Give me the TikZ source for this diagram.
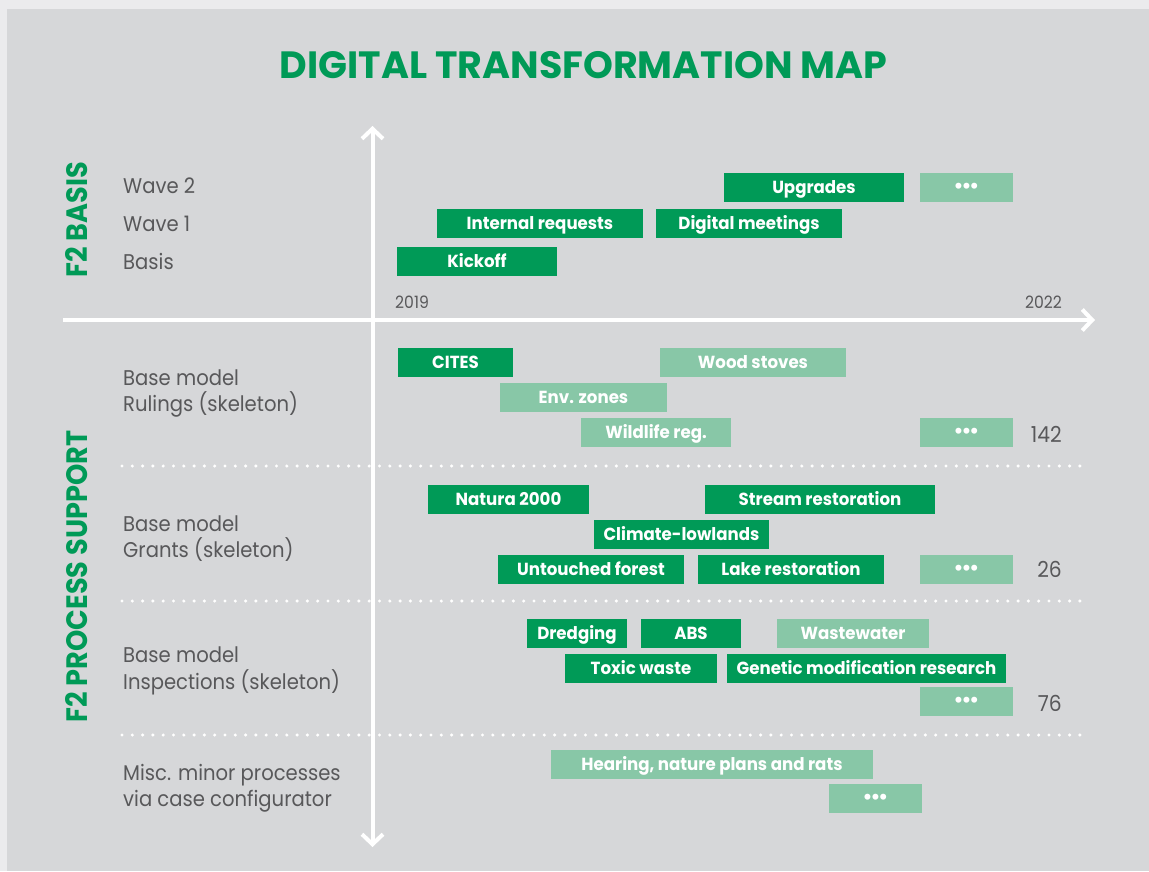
\documentclass[tikz,border=0pt]{standalone}
\usepackage{fontspec}
\usetikzlibrary{arrows.meta}
\newfontfamily\pop[FakeStretch=0.92]{Poppins}
\newfontfamily\popb[FakeStretch=0.95]{Poppins}
\newfontfamily\popt{Poppins}
\newfontfamily\dvs{DejaVu Sans}
\definecolor{outerbg}{HTML}{EBEBED}
\definecolor{panel}{HTML}{D6D7D9}
\definecolor{gdark}{HTML}{009A57}
\definecolor{glight}{HTML}{88C7A7}
\definecolor{tgray}{HTML}{58585A}
\newcommand{\tdots}{•\kern-3pt•\kern-3pt•}
\tikzset{
  box/.style={rectangle, inner sep=0pt, minimum height=29pt, text=white,
    text height=12.2pt, text depth=0pt,
    font=\popb\bfseries\fontsize{17.5}{17.5}\selectfont},
  dk/.style={box, fill=gdark},
  lt/.style={box, fill=glight},
  dotsbox/.style={lt, minimum width=93pt, text height=10.4pt,
    font=\dvs\bfseries\fontsize{17}{17}\selectfont},
  lbl/.style={anchor=base west, inner sep=0pt, text=tgray,
    font=\pop\fontsize{21.3}{21.3}\selectfont},
  num/.style={anchor=base east, inner sep=0pt, text=tgray,
    font=\pop\fontsize{22}{22}\selectfont},
  yr/.style={inner sep=0pt, text=tgray, font=\pop\fontsize{17}{17}\selectfont},
  side/.style={anchor=base, rotate=90, inner sep=0pt, text=gdark,
    font=\pop\bfseries\fontsize{29.5}{29.5}\selectfont},
  axis/.style={draw=white, line width=4pt,
    -{Straight Barb[length=10pt,width=21pt]}},
  axis2/.style={draw=white, line width=4pt,
    {Straight Barb[length=10pt,width=21pt]}-{Straight Barb[length=10pt,width=21pt]}},
  dotline/.style={draw=white, line width=3.4pt, line cap=round,
    dash pattern=on 0pt off 10.3pt}
}
\begin{document}
\begin{tikzpicture}[x=1pt,y=-1pt]
\useasboundingbox (0,0) rectangle (1149,871);
\fill[outerbg] (0,0) rectangle (1149,871);
\fill[panel] (7,9) rectangle (1149,871);

% title
\node[anchor=base, inner sep=0pt, text=gdark,
  font=\popt\bfseries\fontsize{38}{38}\selectfont] (title) at (583.5,78) {DIGITAL TRANSFORMATION MAP};

% side labels
\node[side] (f2basis) at (87,219.5) {F2 BASIS};
\node[side] (f2proc) at (87,576.5) {F2 PROCESS SUPPORT};

% dotted separators
\coordinate (d1l) at (122,466); \coordinate (d1r) at (1087,466);
\coordinate (d2l) at (122,601); \coordinate (d2r) at (1087,601);
\coordinate (d3l) at (122,735); \coordinate (d3r) at (1087,735);
\draw[dotline] (d1l) -- (d1r);
\draw[dotline] (d2l) -- (d2r);
\draw[dotline] (d3l) -- (d3r);

% axes
\coordinate (ytop) at (372.5,126);
\coordinate (ybot) at (372.5,847);
\coordinate (xl) at (63,320);
\coordinate (xr) at (1095,320);
\draw[axis] (xl) -- (xr);
\draw[axis2] (ybot) -- (ytop);

% years
\node[yr, anchor=base west] (y2019) at (395,308) {2019};
\node[yr, anchor=base east] (y2022) at (1062,308) {2022};

% row labels
\node[lbl] (wave2) at (123,193) {Wave 2};
\node[lbl] (wave1) at (123,231) {Wave 1};
\node[lbl] (basis) at (123,269) {Basis};
\node[lbl] (bm1) at (123,385) {Base model};
\node[lbl] (rul) at (123,411) {Rulings (skeleton)};
\node[lbl] (bm2) at (123,531) {Base model};
\node[lbl] (gra) at (123,557) {Grants (skeleton)};
\node[lbl] (bm3) at (123,662) {Base model};
\node[lbl] (ins) at (123,689) {Inspections (skeleton)};
\node[lbl] (misc1) at (123,780) {Misc. minor processes};
\node[lbl] (misc2) at (123,806) {via case configurator};

% F2 basis boxes
\node[dk, minimum width=180pt] (upg) at (814,187.5) {Upgrades};
\node[dotsbox] (dots1) at (966.5,187.5) {\tdots};
\node[dk, minimum width=206pt] (ireq) at (540,223.5) {Internal requests};
\node[dk, minimum width=186pt] (dmeet) at (749,223.5) {Digital meetings};
\node[dk, minimum width=160pt] (kick) at (477,261.5) {Kickoff};

% rulings
\node[dk, minimum width=115pt] (cites) at (455.5,362.5) {CITES};
\node[lt, minimum width=186pt] (wood) at (753,362.5) {Wood stoves};
\node[lt, minimum width=167pt] (env) at (583.5,397.5) {Env. zones};
\node[lt, minimum width=150pt] (wild) at (656,432.5) {Wildlife reg.};
\node[dotsbox] (dots2) at (966.5,432.5) {\tdots};
\node[num] (n142) at (1062,442) {142};

% grants
\node[dk, minimum width=161pt] (natura) at (508.5,499.5) {Natura 2000};
\node[dk, minimum width=230pt] (stream) at (820,499.5) {Stream restoration};
\node[dk, minimum width=175pt] (climate) at (681.5,534.5) {Climate-lowlands};
\node[dk, minimum width=186pt] (untouched) at (591,569.5) {Untouched forest};
\node[dk, minimum width=186pt] (lake) at (791,569.5) {Lake restoration};
\node[dotsbox] (dots3) at (966.5,569.5) {\tdots};
\node[num] (n26) at (1062,577) {26};

% inspections
\node[dk, minimum width=100pt] (dredg) at (577,633.5) {Dredging};
\node[dk, minimum width=100pt] (abs) at (691,633.5) {ABS};
\node[lt, minimum width=152pt] (waste) at (853,633.5) {Wastewater};
\node[dk, minimum width=152pt] (toxic) at (641,668.5) {Toxic waste};
\node[dk, minimum width=279pt] (genetic) at (866.5,668.5) {Genetic modification research};
\node[dotsbox] (dots4) at (966.5,701.5) {\tdots};
\node[num] (n76) at (1062,711) {76};

% misc
\node[lt, minimum width=322pt] (hearing) at (712,764.5) {Hearing, nature plans and rats};
\node[dotsbox] (dots5) at (875.5,798.5) {\tdots};
\end{tikzpicture}
\end{document}
